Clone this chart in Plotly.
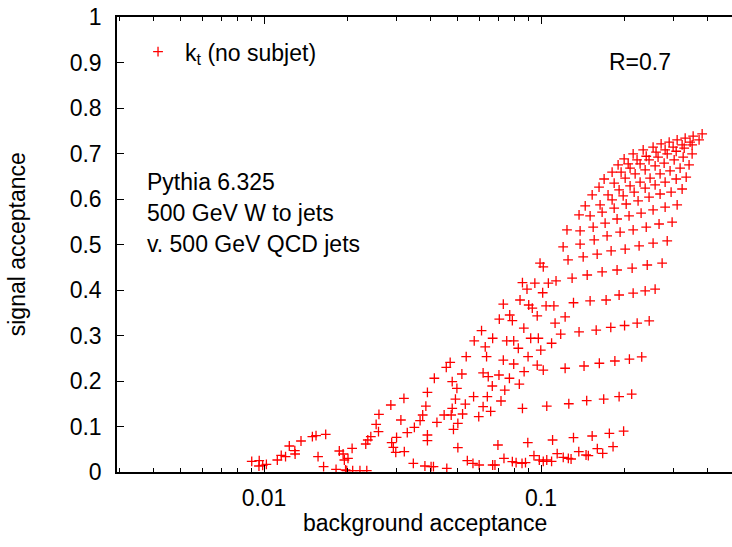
import plotly.graph_objects as go

# background acceptance / signal acceptance pairs
bg_acceptance = [
    0.00903, 0.00961, 0.00959, 0.00989, 0.0102, 0.01117, 0.01154, 0.01196, 0.01234, 0.01292,
    0.01295, 0.0136, 0.01495, 0.01541, 0.0167, 0.01567, 0.01641,
    0.0182, 0.0187, 0.0193, 0.0195, 0.0201, 0.0208, 0.0197, 0.0199, 0.0209, 0.0222, 0.0235,
    0.0233, 0.0237, 0.0243, 0.0254, 0.0259, 0.0260, 0.0287, 0.0289, 0.0293, 0.0299, 0.0301,
    0.0320, 0.0312, 0.0321, 0.0329, 0.0346, 0.0349, 0.0366, 0.0374, 0.0384, 0.0389, 0.0389,
    0.0389, 0.0381, 0.0401, 0.0409, 0.0421, 0.0412, 0.0447, 0.0455, 0.0457, 0.0470, 0.0474,
    0.0478, 0.0478, 0.0483, 0.0491, 0.0497, 0.0501, 0.0501, 0.0518, 0.0521, 0.0533, 0.0537,
    0.0542, 0.0571, 0.0568, 0.0574, 0.0596, 0.0598, 0.0610, 0.0618, 0.0618, 0.0629, 0.0636,
    0.0640, 0.0645, 0.0658, 0.0667, 0.0669, 0.0669, 0.0682, 0.0699, 0.0705, 0.0707, 0.0717,
    0.0731, 0.0735, 0.0740, 0.0752, 0.0769, 0.0771, 0.0788, 0.0788, 0.0797, 0.0797, 0.0813,
    0.0828, 0.0835, 0.0840, 0.0857, 0.0867, 0.0869, 0.0879, 0.0898, 0.0903, 0.0896, 0.0918,
    0.0930, 0.0969, 0.0969, 0.0978, 0.0998, 0.1019, 0.1043, 0.1049, 0.1049,
    0.0854, 0.0943, 0.0986, 0.1019,
    0.1113, 0.1222, 0.1310, 0.1504, 0.1718, 0.1124, 0.1178, 0.1372, 0.1582, 0.1786, 0.2003,
    0.2224, 0.2458, 0.1092, 0.1222, 0.1430, 0.1624, 0.1848, 0.2085, 0.2310, 0.1260, 0.1462,
    0.1684, 0.1914, 0.2125, 0.1101, 0.1310, 0.1530, 0.1765, 0.1987, 0.1092, 0.1144, 0.1203,
    0.1255, 0.1284, 0.1369, 0.1454, 0.1482, 0.1597, 0.1670, 0.1820,
    0.1019, 0.0857, 0.0950, 0.0890, 0.1014, 0.1063, 0.0731,
    0.3817, 0.3542, 0.3315, 0.3101, 0.2902, 0.2714, 0.2539, 0.2338, 0.2151, 0.1996, 0.1898,
    0.3721, 0.3453, 0.3232, 0.2999, 0.2806, 0.2602, 0.2398, 0.2222, 0.2064, 0.1806,
    0.3512, 0.3288, 0.3076, 0.2855, 0.2646, 0.2455, 0.2279, 0.2097, 0.1946, 0.1690,
    0.3512, 0.3260, 0.3025, 0.2783, 0.2582, 0.2377, 0.2187, 0.2013, 0.1837, 0.1620,
    0.3424, 0.3178, 0.2924, 0.2691, 0.2476, 0.2279, 0.2097, 0.1914, 0.1746, 0.1530,
    0.3343, 0.3076, 0.2806, 0.2582, 0.2377, 0.2169, 0.1980, 0.1806, 0.1634, 0.1444,
    0.3232, 0.2949, 0.2691, 0.2455, 0.2241, 0.2030, 0.1837, 0.1662, 0.1504, 0.1372,
    0.3101, 0.2806, 0.2539, 0.2298, 0.2079, 0.1882, 0.1704, 0.1543, 0.1384, 0.1241,
    0.2974, 0.2668, 0.2398, 0.2151, 0.1930, 0.1732, 0.1556, 0.1384, 0.1202,
    0.2855, 0.2539, 0.2260, 0.2013, 0.1791, 0.1595, 0.1420, 0.1252,
    0.2737, 0.2418, 0.2133, 0.1882, 0.1662, 0.1468, 0.1295, 0.1133, 0.0992,
    0.2582, 0.2377, 0.2151, 0.1914,
]
sig_acceptance = [
    0.0235, 0.0248, 0.0132, 0.0147, 0.0169, 0.0264, 0.0367, 0.0336, 0.0571, 0.0468,
    0.0396, 0.0681, 0.0776, 0.0798, 0.0829, 0.0336, 0.0116,
    0.0059, 0.0462, 0.0396, 0.0264, 0.0301, 0.0521, 0.0044, 0.0029, 0.0029, 0.0029, 0.0029,
    0.0615, 0.0703, 0.0776, 0.1048, 0.0886, 0.1268, 0.1473, 0.0644, 0.0543, 0.0433, 0.0763,
    0.162, 0.1143, 0.0446, 0.0864, 0.0191, 0.0982, 0.1127, 0.1253, 0.145, 0.175, 0.0813,
    0.0688, 0.0132, 0.0116, 0.0116, 0.1092, 0.206, 0.1253, 0.230, 0.0081, 0.241, 0.1253,
    0.1985, 0.140, 0.0938, 0.160, 0.184, 0.107, 0.0534, 0.2154, 0.1275, 0.149, 0.2534,
    0.0248, 0.1655, 0.0191, 0.288, 0.1215, 0.0154, 0.3105, 0.218, 0.1435, 0.275, 0.2534,
    0.1655, 0.2094, 0.1334, 0.189, 0.294, 0.0154, 0.0154, 0.0593, 0.2132, 0.336, 0.156,
    0.246, 0.0301, 0.180, 0.288, 0.206, 0.345, 0.0226, 0.3325, 0.2374, 0.288, 0.0204,
    0.272, 0.193, 0.378, 0.140, 0.316, 0.2204, 0.0204, 0.2534, 0.367, 0.0644, 0.294,
    0.360, 0.343, 0.235, 0.294, 0.268, 0.224, 0.365, 0.145, 0.0264,
    0.0191, 0.0358, 0.0264, 0.0235,
    0.365, 0.341, 0.372, 0.376, 0.378, 0.327, 0.303, 0.308, 0.312, 0.318, 0.322,
    0.327, 0.332, 0.283, 0.228, 0.233, 0.239, 0.244, 0.248, 0.253, 0.150, 0.157,
    0.160, 0.1655, 0.171, 0.0703, 0.0754, 0.0791, 0.085, 0.090, 0.0235, 0.0402, 0.0323,
    0.0301, 0.0286, 0.0446, 0.0374, 0.0358, 0.0512, 0.0411, 0.0556,
    0.451, 0.416, 0.415, 0.402, 0.394, 0.415, 0.369,
    0.743, 0.738, 0.734, 0.730, 0.725, 0.721, 0.714, 0.708, 0.699, 0.688, 0.675,
    0.730, 0.725, 0.719, 0.714, 0.708, 0.703, 0.694, 0.686, 0.677, 0.659,
    0.719, 0.712, 0.705, 0.699, 0.692, 0.686, 0.677, 0.668, 0.659, 0.644,
    0.699, 0.692, 0.686, 0.679, 0.673, 0.664, 0.655, 0.646, 0.635, 0.626,
    0.675, 0.668, 0.662, 0.655, 0.646, 0.637, 0.629, 0.620, 0.609, 0.609,
    0.648, 0.644, 0.637, 0.631, 0.624, 0.615, 0.607, 0.598, 0.587, 0.585,
    0.622, 0.615, 0.611, 0.604, 0.596, 0.589, 0.580, 0.571, 0.563, 0.565,
    0.587, 0.582, 0.576, 0.569, 0.563, 0.556, 0.547, 0.538, 0.530, 0.532,
    0.549, 0.545, 0.538, 0.532, 0.527, 0.519, 0.510, 0.501, 0.495,
    0.508, 0.503, 0.497, 0.490, 0.486, 0.479, 0.473, 0.466,
    0.459, 0.455, 0.448, 0.444, 0.440, 0.433, 0.426, 0.420, 0.459,
    0.402, 0.398, 0.393, 0.389,
]

x_tick_values = [0.01, 0.1]
x_tick_labels = ["0.01", "0.1"]
x_minor_values = [0.003, 0.004, 0.005, 0.006, 0.007, 0.008, 0.009,
                  0.02, 0.03, 0.04, 0.05, 0.06, 0.07, 0.08, 0.09,
                  0.2, 0.3, 0.4, 0.5]
y_tick_values = [0, 0.1, 0.2, 0.3, 0.4, 0.5, 0.6, 0.7, 0.8, 0.9, 1]
y_tick_labels = ["0", "0.1", "0.2", "0.3", "0.4", "0.5", "0.6", "0.7", "0.8", "0.9", "1"]

FONT = "Liberation Sans, Arial, sans-serif"
FS = 23

fig = go.Figure()
fig.add_trace(go.Scatter(
    x=bg_acceptance, y=sig_acceptance, mode="markers",
    name="k<sub>t</sub> (no subjet)",
    marker=dict(symbol="cross-thin", size=7, color="red",
                line=dict(color="red", width=1.3)),
))

fig.update_layout(
    width=732, height=547,
    margin=dict(l=117, r=0, t=17, b=75, autoexpand=False),
    paper_bgcolor="white", plot_bgcolor="white",
    font=dict(family=FONT, size=FS, color="black"),
    showlegend=True,
    legend=dict(x=0.0228, y=0.924, xanchor="left", yanchor="middle",
                bgcolor="rgba(0,0,0,0)", font=dict(size=FS),
                itemwidth=44),
    xaxis=dict(type="log", range=[-2.5307, -0.3105], automargin=False,
               tickvals=x_tick_values, ticktext=x_tick_labels,
               ticks="inside", ticklen=7, tickwidth=1, tickcolor="black",
               showline=True, linecolor="black", linewidth=1.5,
               mirror="ticks", showgrid=False, zeroline=False,
               ticklabelstandoff=5,
               minor=dict(tickvals=x_minor_values, ticks="inside", ticklen=4,
                          tickwidth=1, tickcolor="black", showgrid=False)),
    yaxis=dict(range=[0, 1], tickvals=y_tick_values, ticktext=y_tick_labels,
               automargin=False,
               ticks="inside", ticklen=7, tickwidth=1, tickcolor="black",
               showline=True, linecolor="black", linewidth=1.5,
               mirror=False, showgrid=False, zeroline=False,
               ticklabelstandoff=9),
    annotations=[
        dict(text="background acceptance", xref="paper", yref="paper",
             x=0.5, y=-0.112, xanchor="center", yanchor="middle",
             showarrow=False, font=dict(size=FS)),
        dict(text="signal acceptance", xref="paper", yref="paper",
             x=-0.163, y=0.50, xanchor="center", yanchor="middle",
             textangle=-90, showarrow=False, font=dict(size=FS)),
        dict(text="R=0.7", xref="paper", yref="paper",
             x=0.85, y=0.901, xanchor="center", yanchor="middle",
             showarrow=False, font=dict(size=FS)),
        dict(text="Pythia 6.325", xref="paper", yref="paper",
             x=0.045, y=0.637, xanchor="left", yanchor="middle",
             showarrow=False, font=dict(size=FS)),
        dict(text="500 GeV W to jets", xref="paper", yref="paper",
             x=0.045, y=0.569, xanchor="left", yanchor="middle",
             showarrow=False, font=dict(size=FS)),
        dict(text="v. 500 GeV QCD jets", xref="paper", yref="paper",
             x=0.045, y=0.501, xanchor="left", yanchor="middle",
             showarrow=False, font=dict(size=FS)),
    ],
)

fig.write_html("out.html", config={"displayModeBar": False},
               post_script="document.body.style.margin='0px';")
